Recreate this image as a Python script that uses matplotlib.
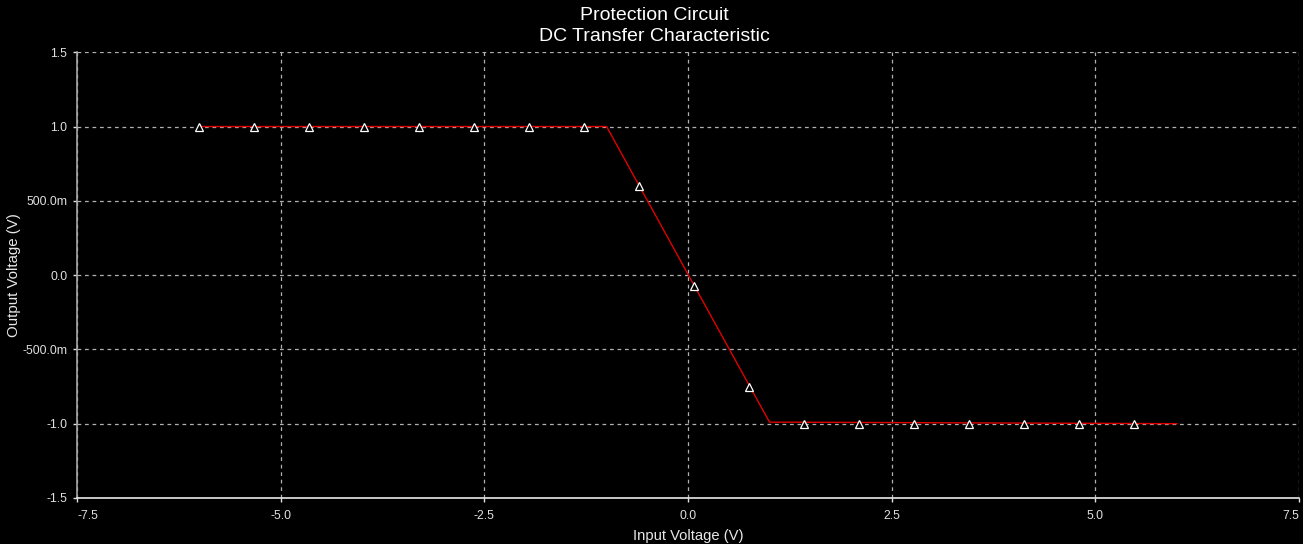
import matplotlib.pyplot as plt
from matplotlib.ticker import FixedLocator, FuncFormatter

# transfer curve breakpoints (input V -> output V)
curve_x = [-6.0, -1.0, 1.0, 1.3, 6.0]
curve_y = [1.0, 1.0, -0.99, -0.99, -1.0]

# sampled points shown with triangle markers
marker_x = [-6.0, -5.325, -4.65, -3.975, -3.3, -2.625, -1.95, -1.275, -0.6,
            0.075, 0.75, 1.425, 2.1, 2.775, 3.45, 4.125, 4.8, 5.475]
marker_y = [1.0, 1.0, 1.0, 1.0, 1.0, 1.0, 1.0, 1.0, 0.6,
            -0.075, -0.75, -1.0, -1.0, -1.0, -1.0, -1.0, -1.0, -1.0]

x_ticks = [-7.5, -5.0, -2.5, 0.0, 2.5, 5.0, 7.5]
y_ticks = [-1.5, -1.0, -0.5, 0.0, 0.5, 1.0, 1.5]


def eng_label(value, pos=None):
    if value != 0 and abs(value) < 1:
        return f"{value * 1000:.1f}m"
    return f"{value:.1f}"


plt.rcParams["font.family"] = ["Liberation Sans", "DejaVu Sans"]

fig = plt.figure(figsize=(13.03, 5.44), dpi=100, facecolor="black")
ax = fig.add_axes([0.0591, 0.0846, 0.9379, 0.8194], facecolor="black")

ax.plot(curve_x, curve_y, color="#e00000", linewidth=1.0, zorder=3)
ax.plot(marker_x, marker_y, linestyle="none", marker="^", markersize=5.5,
        markerfacecolor="black", markeredgecolor="white", markeredgewidth=0.9,
        zorder=4)

ax.set_xlim(-7.5, 7.5)
ax.set_ylim(-1.5, 1.5)
ax.xaxis.set_major_locator(FixedLocator(x_ticks))
ax.yaxis.set_major_locator(FixedLocator(y_ticks))
ax.xaxis.set_major_formatter(FuncFormatter(eng_label))
ax.yaxis.set_major_formatter(FuncFormatter(eng_label))

ax.grid(True, color="#b0b0b0", linestyle=(0, (3, 3)), linewidth=0.9)
for spine in ("top", "right"):
    ax.spines[spine].set_visible(False)
ax.spines["left"].set_color("#a8a8a8")
ax.spines["bottom"].set_color("#e8e8e8")
ax.spines["left"].set_linewidth(1.2)
ax.spines["bottom"].set_linewidth(1.2)

ax.tick_params(colors="#e0e0e0", labelsize=8.8, length=3, width=1)
ax.tick_params(axis="x", pad=6)
ax.tick_params(axis="y", pad=4)

# end labels sit inside the plot width
xlabels = ax.get_xticklabels()
xlabels[0].set_horizontalalignment("left")
xlabels[-1].set_horizontalalignment("right")

ax.set_xlabel("Input Voltage (V)", color="#e8e8e8", fontsize=10.6, labelpad=5)
ax.set_ylabel("Output Voltage (V)", color="#e8e8e8", fontsize=10.8, labelpad=1)

fig.text(0.502, 0.972, "Protection Circuit", color="white", fontsize=14,
         ha="center", va="center")
fig.text(0.502, 0.933, "DC Transfer Characteristic", color="white",
         fontsize=14, ha="center", va="center")

fig.savefig("out.png", dpi=100, facecolor="black")
